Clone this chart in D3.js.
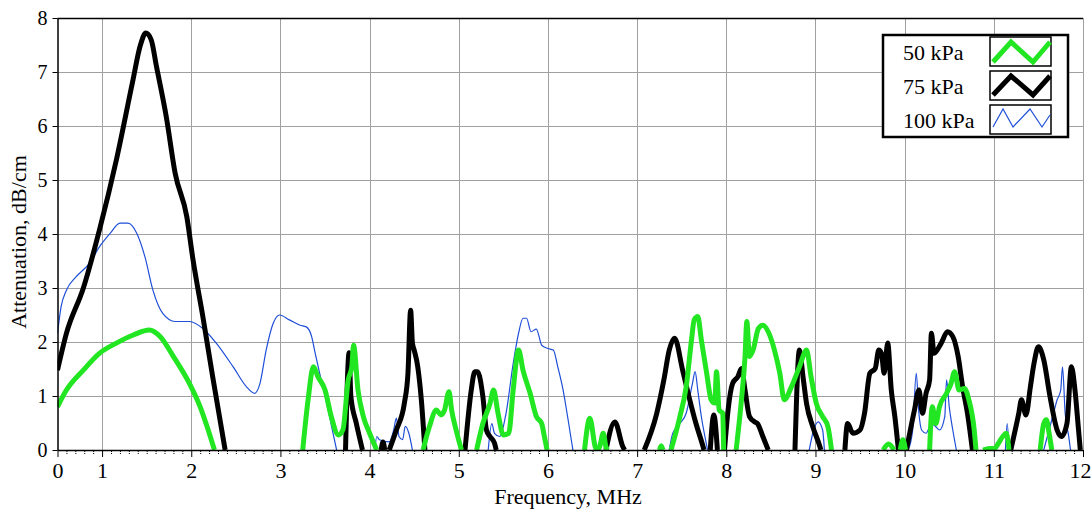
<!DOCTYPE html>
<html>
<head>
<meta charset="utf-8">
<script src="https://d3js.org/d3.v7.min.js"></script>
<style>
  body { margin: 0; background: #fff; }
  svg { display: block; }
  text { font-family: "Liberation Serif", "Times New Roman", serif; fill: #000; }
</style>
</head>
<body>
<div id="chart"></div>
<script>
// axis setup
var xMajor = [0.5, 1, 2, 3, 4, 5, 6, 7, 8, 9, 10, 11, 12];
var xMajorLabels = ["0", "1", "2", "3", "4", "5", "6", "7", "8", "9", "10", "11", "12"];
var yTicks = [0, 1, 2, 3, 4, 5, 6, 7, 8];

var seriesNames = ["50 kPa", "75 kPa", "100 kPa"];
var seriesColors = ["#22e622", "#000000", "#1f4fd8"];
var seriesWidths = [5, 5, 1.2];

// [frequency MHz, attenuation dB/cm], null = gap (curve below zero)
var green50 = [
  [0.5,0.8],[0.6,1.11],[0.79,1.48],[0.97,1.79],[1.16,1.98],[1.35,2.13],[1.53,2.22],[1.65,2.1],[1.8,1.73],[1.98,1.23],[2.1,0.8],[2.19,0.37],[2.26,0],
  null,
  [3.25,0],[3.31,0.93],[3.37,1.54],[3.42,1.36],[3.5,1.11],[3.57,0.62],[3.65,0.28],[3.7,0.37],[3.76,1.3],[3.8,1.54],[3.82,1.94],[3.87,1.11],[3.93,0.62],[4.0,0.31],[4.08,0],
  null,
  [4.6,0],[4.67,0.43],[4.75,0.74],[4.8,0.65],[4.84,0.74],[4.89,1.08],[4.92,0.74],[4.97,0.37],[5.03,0],
  null,
  [5.2,0],[5.27,0.49],[5.35,0.86],[5.39,1.11],[5.44,0.68],[5.5,0.28],[5.56,0.31],[5.61,1.11],[5.67,1.85],[5.72,1.48],[5.8,1.05],[5.87,0.62],[5.93,0.49],[5.96,0.25],[5.99,0],
  null,
  [6.41,0],[6.47,0.59],[6.53,0.06],[6.55,0],[6.58,0.06],[6.62,0.31],[6.65,0.06],[6.67,0],
  null,
  [7.25,0],[7.27,0.08],[7.29,0],
  null,
  [7.38,0],[7.48,0.62],[7.55,1.17],[7.61,2.04],[7.64,2.41],[7.68,2.47],[7.72,2.04],[7.78,1.42],[7.83,0.93],[7.87,0.87],[7.89,1.45],[7.92,0.74],[7.96,0.68],[7.97,0],
  null,
  [8.11,0],[8.17,0.93],[8.21,1.73],[8.23,2.38],[8.26,1.73],[8.3,1.85],[8.36,2.25],[8.41,2.31],[8.47,2.19],[8.54,1.85],[8.6,1.42],[8.65,0.93],[8.73,1.17],[8.82,1.54],[8.9,1.85],[8.95,1.36],[9.01,0.86],[9.08,0.62],[9.14,0.43],[9.18,0],
  null,
  [9.76,0],[9.82,0.11],[9.88,0],
  null,
  [9.95,0],[9.98,0.19],[10.01,0],
  null,
  [10.28,0],[10.31,0.8],[10.35,0.49],[10.39,0.8],[10.47,1.05],[10.52,1.23],[10.56,1.45],[10.61,1.11],[10.67,1.14],[10.72,0.93],[10.78,0.37],[10.8,0],
  null,
  [10.88,0],[10.95,0.03],[11.01,0.03],[11.05,0.12],[11.1,0.25],[11.14,0.31],[11.17,0],
  null,
  [11.52,0],[11.56,0.49],[11.59,0.56],[11.62,0.31],[11.65,0]
];

var black75 = [
  [0.5,1.48],[0.6,2.16],[0.79,3.0],[0.97,4.07],[1.16,5.37],[1.34,6.8],[1.43,7.5],[1.49,7.72],[1.55,7.6],[1.61,7.1],[1.72,6.17],[1.82,5.12],[1.95,4.32],[2.02,3.52],[2.13,2.47],[2.24,1.36],[2.38,0],
  null,
  [3.73,0],[3.77,1.8],[3.79,0.99],[3.85,0.5],[3.92,0],
  null,
  [4.13,0],[4.15,0.15],[4.17,0],
  null,
  [4.22,0],[4.3,0.37],[4.39,0.87],[4.43,1.42],[4.46,2.59],[4.48,1.98],[4.5,1.85],[4.54,1.54],[4.58,0.93],[4.62,0],
  null,
  [5.07,0],[5.14,1.11],[5.18,1.45],[5.21,1.45],[5.27,0.99],[5.31,0.37],[5.35,0.25],[5.4,0.13],[5.42,0],
  null,
  [6.65,0],[6.75,0.52],[6.84,0.06],[6.86,0],
  null,
  [7.08,0],[7.22,0.68],[7.3,1.3],[7.36,1.85],[7.42,2.07],[7.51,1.48],[7.59,0.93],[7.66,0.49],[7.74,0.06],[7.75,0],
  null,
  [7.82,0],[7.86,0.65],[7.9,0],
  null,
  [7.98,0],[8.02,0.74],[8.07,1.23],[8.13,1.36],[8.17,1.51],[8.21,1.11],[8.26,0.62],[8.32,0.52],[8.35,0.49],[8.41,0.25],[8.47,0],
  null,
  [8.77,0],[8.82,1.85],[8.86,1.36],[8.9,0.86],[8.97,0.43],[9.05,0.06],[9.06,0],
  null,
  [9.33,0],[9.36,0.49],[9.42,0.31],[9.5,0.37],[9.55,0.68],[9.61,1.42],[9.67,1.51],[9.71,1.85],[9.74,1.79],[9.77,1.42],[9.81,1.98],[9.85,1.11],[9.89,0.62],[9.93,0],
  null,
  [10.02,0],[10.11,0.74],[10.16,1.11],[10.2,0.68],[10.24,1.05],[10.28,1.3],[10.3,2.16],[10.33,1.79],[10.41,1.98],[10.48,2.19],[10.54,2.1],[10.6,1.73],[10.65,1.17],[10.71,0.62],[10.76,0],
  null,
  [11.19,0],[11.28,0.68],[11.31,0.93],[11.36,0.65],[11.41,1.17],[11.45,1.6],[11.5,1.91],[11.56,1.67],[11.63,0.99],[11.71,0.37],[11.76,0.25],[11.82,0.49],[11.87,1.54],[11.91,1.11],[11.95,0.37],[11.97,0]
];

var blue100 = [
  [0.5,2.16],[0.54,2.65],[0.6,2.96],[0.71,3.21],[0.86,3.46],[0.97,3.76],[1.09,4.01],[1.2,4.2],[1.29,4.2],[1.39,4.01],[1.48,3.58],[1.57,2.96],[1.68,2.53],[1.82,2.38],[1.98,2.38],[2.13,2.25],[2.28,1.98],[2.47,1.54],[2.62,1.17],[2.71,1.05],[2.77,1.23],[2.84,1.85],[2.92,2.35],[2.99,2.5],[3.1,2.41],[3.22,2.31],[3.29,2.28],[3.35,2.1],[3.39,1.79],[3.44,1.42],[3.52,0.86],[3.59,0.31],[3.63,0],
  null,
  [4.06,0],[4.08,0.25],[4.11,0.19],[4.22,0.15],[4.27,0.37],[4.3,0.59],[4.33,0.25],[4.37,0.19],[4.4,0.44],[4.44,0.31],[4.48,0],
  null,
  [5.33,0],[5.37,0.49],[5.4,0.31],[5.46,0.25],[5.53,0.68],[5.61,1.6],[5.67,2.16],[5.72,2.44],[5.76,2.44],[5.81,2.19],[5.87,2.24],[5.93,1.94],[6.0,1.88],[6.06,1.85],[6.11,1.54],[6.17,1.11],[6.22,0.62],[6.28,0],
  null,
  [7.36,0],[7.4,0.31],[7.48,0.49],[7.55,0.68],[7.62,1.23],[7.65,1.45],[7.68,1.11],[7.72,0.62],[7.76,0.25],[7.79,0],
  null,
  [8.93,0],[8.97,0.31],[9.03,0.52],[9.08,0.37],[9.1,0],
  null,
  [10.04,0],[10.09,0.37],[10.13,1.42],[10.16,0.68],[10.19,0.37],[10.24,0.31],[10.3,0.49],[10.35,0.43],[10.39,0.37],[10.45,0.62],[10.47,1.3],[10.5,0.8],[10.54,0.37],[10.58,0],
  null,
  [11.13,0],[11.15,0.49],[11.17,0],
  null,
  [11.56,0],[11.6,0.25],[11.66,0.62],[11.71,0.93],[11.75,1.11],[11.77,1.54],[11.8,0.68],[11.84,0.25],[11.86,0]
];

var W = 1092, H = 512;
var margin = { top: 18, right: 9, bottom: 62, left: 57.5 };

var svg = d3.select("#chart").append("svg")
    .attr("width", W)
    .attr("height", H);

var x = d3.scaleLinear().domain([0.5, 12]).range([margin.left, W - margin.right]);
var y = d3.scaleLinear().domain([0, 8]).range([H - margin.bottom, margin.top]);

// grid
var grid = svg.append("g").attr("stroke", "#a0a0a0").attr("stroke-width", 1);
grid.selectAll("line.vx")
    .data(xMajor.slice(1))
    .enter().append("line")
    .attr("x1", function (d) { return Math.round(x(d)) + 0.5; })
    .attr("x2", function (d) { return Math.round(x(d)) + 0.5; })
    .attr("y1", y(8)).attr("y2", y(0));
grid.selectAll("line.hy")
    .data(yTicks.slice(1, -1))
    .enter().append("line")
    .attr("y1", function (d) { return Math.round(y(d)) + 0.5; })
    .attr("y2", function (d) { return Math.round(y(d)) + 0.5; })
    .attr("x1", x(0.5)).attr("x2", x(12));

// curves, clipped to plot area
svg.append("clipPath").attr("id", "plotclip")
  .append("rect")
    .attr("x", x(0.5)).attr("y", y(8) - 4)
    .attr("width", x(12) - x(0.5)).attr("height", y(0) - y(8) + 4);

var line = d3.line()
    .defined(function (d) { return d !== null; })
    .x(function (d) { return x(d[0]); })
    .y(function (d) { return y(d[1]); })
    .curve(d3.curveMonotoneX);

var allSeries = [green50, black75, blue100];
var plot = svg.append("g").attr("clip-path", "url(#plotclip)");
[2, 1, 0].forEach(function (i) {
  plot.append("path")
      .datum(allSeries[i])
      .attr("d", line)
      .attr("fill", "none")
      .attr("stroke", seriesColors[i])
      .attr("stroke-width", seriesWidths[i])
      .attr("stroke-linejoin", "round");
});

// top border
svg.append("line")
    .attr("x1", x(0.5)).attr("x2", x(12))
    .attr("y1", y(8) + 0.5).attr("y2", y(8) + 0.5)
    .attr("stroke", "#000").attr("stroke-width", 1.5);

// x axis: minor ticks then major ticks
var minor = d3.range(6, 121).map(function (i) { return i / 10; })
    .filter(function (d) { return Math.abs(d - Math.round(d)) > 0.01; });

svg.append("g")
    .attr("transform", "translate(0," + y(0) + ")")
    .call(d3.axisBottom(x).tickValues(minor).tickSize(4).tickFormat(""))
    .call(function (g) { g.select(".domain").remove(); g.selectAll("line").attr("stroke-dasharray", "1,1").attr("transform", "translate(0,1)"); });

var xAxis = svg.append("g")
    .attr("transform", "translate(0," + y(0) + ")")
    .call(d3.axisBottom(x).tickValues(xMajor).tickSize(7).tickSizeOuter(0).tickPadding(5)
      .tickFormat(function (d, i) { return xMajorLabels[i]; }));
xAxis.select(".domain").attr("stroke-width", 1.5);
xAxis.selectAll("text").style("font-size", "22px");
// keep the last label inside the window
xAxis.selectAll("text").filter(function (d) { return d === 12; }).attr("dx", "-3");

var yAxis = svg.append("g")
    .attr("transform", "translate(" + x(0.5) + ",0)")
    .call(d3.axisLeft(y).tickValues(yTicks).tickSize(5).tickSizeOuter(0).tickPadding(5));
yAxis.select(".domain").attr("stroke-width", 1.5);
yAxis.selectAll("text").style("font-size", "20px");

// axis titles
svg.append("text")
    .attr("x", 568).attr("y", 504)
    .attr("text-anchor", "middle")
    .style("font-size", "22px")
    .text("Frequency, MHz");

svg.append("text")
    .attr("transform", "translate(26,242) rotate(-90)")
    .attr("text-anchor", "middle")
    .style("font-size", "22px")
    .text("Attenuation, dB/cm");

// legend
var lg = svg.append("g").attr("transform", "translate(883,35)");
lg.append("rect")
    .attr("width", 185).attr("height", 102)
    .attr("fill", "#fff").attr("stroke", "#000").attr("stroke-width", 2.5);

var zig = [
  [[3, 25], [21, 5], [43, 25], [60, 5]],
  [[3, 24], [21, 5], [43, 24], [60, 5]],
  [[3, 22], [13, 4], [23, 22], [40, 4], [52, 22], [60, 10]]
];
seriesNames.forEach(function (name, i) {
  var row = lg.append("g").attr("transform", "translate(0," + (i * 34) + ")");
  row.append("text")
      .attr("x", 20).attr("y", 25)
      .style("font-size", "22px")
      .text(name);
  row.append("rect")
      .attr("x", 107).attr("y", 2)
      .attr("width", 61).attr("height", 29)
      .attr("fill", "#fff").attr("stroke", "#000").attr("stroke-width", 1.5);
  row.append("path")
      .attr("transform", "translate(107,2)")
      .attr("d", d3.line()(zig[i]))
      .attr("fill", "none")
      .attr("stroke", seriesColors[i])
      .attr("stroke-width", seriesWidths[i] === 5 ? 5 : 1.2);
});
</script>
</body>
</html>
